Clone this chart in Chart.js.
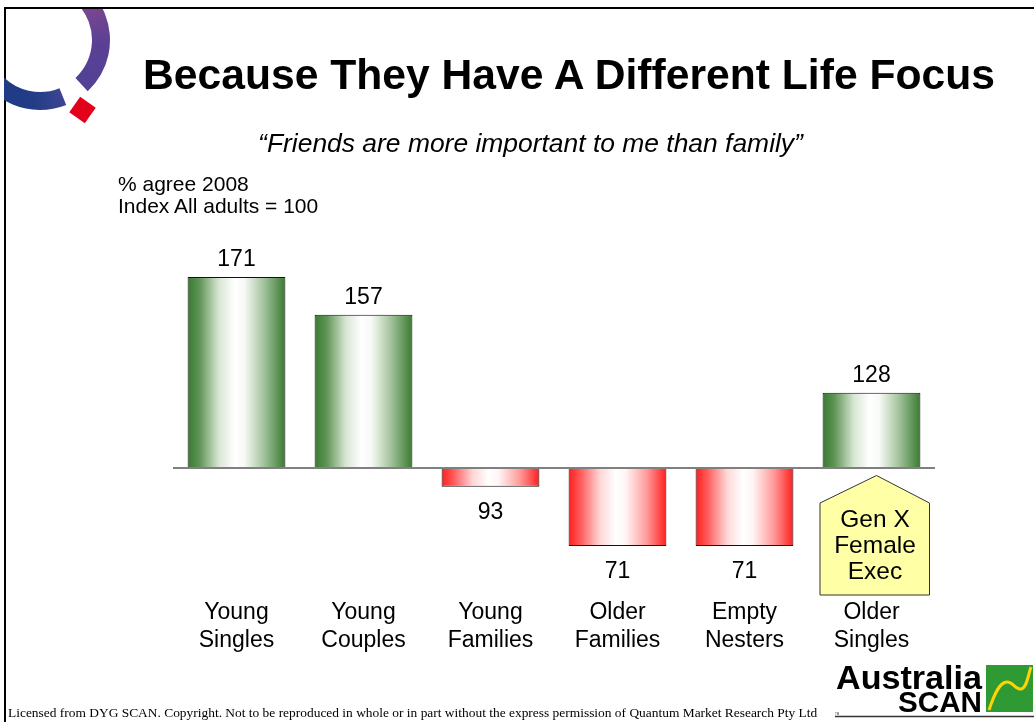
<!DOCTYPE html>
<html><head><meta charset="utf-8">
<script src="https://cdn.jsdelivr.net/npm/chart.js@4.4.1/dist/chart.umd.min.js"></script>
<style>
html,body{margin:0;padding:0;background:#fff;}
#wrap{position:relative;width:1034px;height:722px;overflow:hidden;background:#fff;}
#frame{position:absolute;left:4px;top:7px;width:1040px;height:730px;border-top:2px solid #000;border-left:2px solid #000;}
#chart{position:absolute;left:0;top:0;}
#logo{position:absolute;left:0;top:0;}
#ov{position:absolute;left:0;top:0;}
</style></head>
<body><div id="wrap">
<div id="frame"></div>
<canvas id="chart" width="1034" height="722"></canvas>
<canvas id="logo" width="130" height="130"></canvas>
<svg id="ov" width="1034" height="722" xmlns="http://www.w3.org/2000/svg" font-family="'Liberation Sans', Arial, sans-serif">
  <text id="title" x="569" y="89" text-anchor="middle" font-size="42" font-weight="bold" fill="#000">Because They Have A Different Life Focus</text>
  <text id="sub" x="530.5" y="152" text-anchor="middle" font-size="26" font-style="italic" fill="#000">“Friends are more important to me than family”</text>
  <text x="118" y="191" font-size="21" fill="#000">% agree 2008</text>
  <text id="note2" x="118" y="213" font-size="21" fill="#000">Index All adults = 100</text>
  <polygon points="876.5,475.5 929.5,503 929.5,595 820,595 820,503" fill="#ffffa6" stroke="#333" stroke-width="1"/>
  <text x="875" y="527" text-anchor="middle" font-size="24.5" fill="#000">Gen X</text>
  <text x="875" y="553" text-anchor="middle" font-size="24.5" fill="#000">Female</text>
  <text x="875" y="579" text-anchor="middle" font-size="24.5" fill="#000">Exec</text>
  <text id="foot" x="8" y="717" font-family="'Liberation Serif', 'Times New Roman', serif" font-size="13" fill="#000">Licensed from DYG SCAN. Copyright. Not to be reproduced in whole or in part without the express permission of Quantum Market Research Pty Ltd</text>
  <text id="aus" x="836" y="689" font-size="34" font-weight="bold" fill="#000">Australia</text>
  <text id="scan" x="982" y="711.5" text-anchor="end" font-size="29" font-weight="bold" fill="#000">SCAN</text>
  <rect x="986" y="665" width="47" height="47" fill="#2f9a33"/>
  <path d="M989,710 C995,692 1000,682 1007,682 C1013,682 1016,690 1021,689 C1027,688 1028,675 1031,667" fill="none" stroke="#ffd400" stroke-width="3"/>
  <line x1="835" y1="716.5" x2="1034" y2="716.5" stroke="#333" stroke-width="1.5"/>
  <text x="835" y="715" font-size="3" fill="#333">TM</text>
</svg>
</div>
<script>
const categories = ['Young Singles','Young Couples','Young Families','Older Families','Empty Nesters','Older Singles'];
const values = [171, 157, 93, 71, 71, 128];
const baseIndex = 100;

function fitText(id, target){
  const el = document.getElementById(id);
  const len = el.getComputedTextLength();
  const fs = parseFloat(el.getAttribute('font-size'));
  if (len > 0) el.setAttribute('font-size', (fs*target/len).toFixed(2));
}
fitText('title', 852);
fitText('sub', 545);
fitText('foot', 810);
fitText('aus', 146);
fitText('scan', 84);

// Logo ring
(function(){
  const lc = document.getElementById('logo').getContext('2d');
  const cx = 40, cy = 40, R = 70, r = 52;
  const d = Math.PI/180;
  const a0 = 68*d, a1 = (360+47)*d;
  lc.save();
  lc.beginPath(); lc.rect(4, 9, 126, 121); lc.clip();
  const g = lc.createConicGradient(a0, cx, cy);
  g.addColorStop(0, '#3d4592');
  g.addColorStop(0.08, '#223c86');
  g.addColorStop(0.4, '#183a80');
  g.addColorStop(0.55, '#8a4c8a');
  g.addColorStop(0.62, '#a5507e');
  g.addColorStop(0.72, '#7c4690');
  g.addColorStop(0.82, '#5a4095');
  g.addColorStop(1, '#4d4296');
  lc.beginPath();
  lc.arc(cx, cy, R, a0, a1);
  lc.arc(cx, cy, r, a1, a0, true);
  lc.closePath();
  lc.fillStyle = g; lc.fill();
  lc.restore();
  lc.save();
  lc.translate(82.5, 110); lc.rotate(35*d);
  lc.fillStyle = '#e2001a'; lc.fillRect(-9.5, -9.5, 19, 19);
  lc.restore();
})();

const BAR_PCT = 0.77;
function barFill(ctx){
  const chart = ctx.chart;
  const v = values[ctx.dataIndex];
  const up = v >= baseIndex;
  if (!chart.chartArea || ctx.type !== 'data') return up ? '#3c7a33' : '#ff2a2a';
  const xs = chart.scales.x;
  const cx = xs.getPixelForValue(ctx.dataIndex);
  const w = xs.width / categories.length * BAR_PCT;
  const g = chart.ctx.createLinearGradient(cx - w/2, 0, cx + w/2, 0);
  if (up){
    g.addColorStop(0, '#3a7a31');
    g.addColorStop(0.12, '#5e9455');
    g.addColorStop(0.32, '#d8e6d4');
    g.addColorStop(0.48, '#ffffff');
    g.addColorStop(0.58, '#f7faf6');
    g.addColorStop(0.78, '#a3c39c');
    g.addColorStop(1, '#3a7a31');
  } else {
    g.addColorStop(0, '#ff1e1e');
    g.addColorStop(0.12, '#ff5a5a');
    g.addColorStop(0.32, '#ffd6d6');
    g.addColorStop(0.48, '#ffffff');
    g.addColorStop(0.58, '#fff6f6');
    g.addColorStop(0.8, '#ff9a9a');
    g.addColorStop(1, '#ff1e1e');
  }
  return g;
}

const valueLabels = {
  id: 'valueLabels',
  afterDatasetsDraw(chart){
    const c = chart.ctx, ys = chart.scales.y, ca = chart.chartArea;
    c.save();
    c.strokeStyle = '#808080'; c.lineWidth = 2;
    const yb = Math.round(ys.getPixelForValue(baseIndex));
    c.beginPath(); c.moveTo(ca.left, yb); c.lineTo(ca.right, yb); c.stroke();
    c.fillStyle = '#000';
    c.font = "23px 'Liberation Sans', Arial, sans-serif";
    c.textAlign = 'center'; c.textBaseline = 'alphabetic';
    chart.getDatasetMeta(0).data.forEach((el, i) => {
      const v = values[i];
      const yp = ys.getPixelForValue(v);
      const y = v >= baseIndex ? yp - 11 : yp + 32;
      c.fillText(String(v), el.x, y);
    });
    c.restore();
  }
};

new Chart(document.getElementById('chart'), {
  type: 'bar',
  data: {
    labels: categories.map(s => s.split(' ')),
    datasets: [{
      data: values.map(v => [baseIndex, v]),
      backgroundColor: barFill,
      borderColor: '#111',
      borderWidth: 1,
      borderSkipped: false,
      barPercentage: BAR_PCT,
      categoryPercentage: 1
    }]
  },
  options: {
    responsive: false,
    animation: false,
    devicePixelRatio: 1,
    layout: { padding: { top: 225.9, left: 173, right: 99, bottom: 0 } },
    plugins: { legend: { display: false }, tooltip: { enabled: false }, title: { display: false } },
    scales: {
      x: {
        grid: { display: false, drawTicks: false },
        border: { display: false },
        ticks: {
          color: '#000', padding: 4, maxRotation: 0, autoSkip: false,
          font: { family: "'Liberation Sans', Arial, sans-serif", size: 23, lineHeight: 28/23 }
        },
        afterFit(s){ s.height = 127.6; }
      },
      y: { display: false, min: 53, max: 190 }
    }
  },
  plugins: [valueLabels]
});
</script>
</body></html>
